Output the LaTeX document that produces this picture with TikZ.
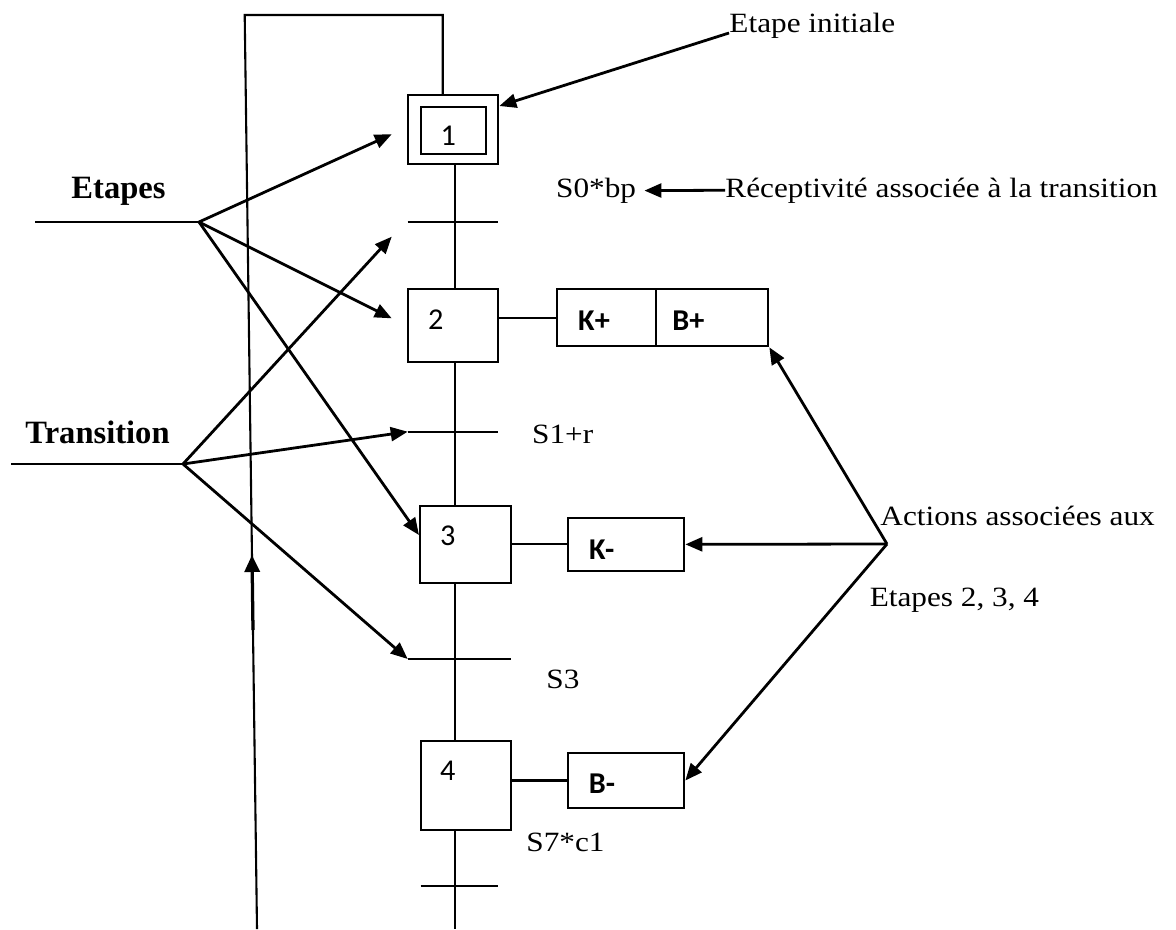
\documentclass[tikz,border=0pt]{standalone}
\usepackage{fontspec}
\setmainfont{Liberation Serif}[FakeStretch=1.12]
\newfontfamily\labelbold{Liberation Serif}
\newfontfamily\boxfont{Carlito}
\usetikzlibrary{arrows.meta,fit}

\begin{document}
\begin{tikzpicture}[x=0.43pt,y=-0.43pt,
  box/.style={draw,line width=0.9pt,inner sep=0pt},
  wire/.style={line width=0.9pt},
  pointer/.style={line width=1.2pt,-{Triangle[length=7.3pt,width=6pt]}},
  txt/.style={font=\fontsize{12}{14}\selectfont,inner sep=0pt},
  head/.style={font=\labelbold\fontsize{14}{16}\selectfont\bfseries,inner sep=0pt},
  num/.style={font=\boxfont\fontsize{13}{15}\selectfont,inner sep=0pt},
  act/.style={font=\boxfont\fontsize{13}{15}\selectfont\bfseries,inner sep=0pt}]
\useasboundingbox (0,0) rectangle (1176,929);

% ---- steps ----
\node[box,fit={(408.3,95) (498.3,164.3)}] (s1o) {};
\node[box,fit={(420.7,107.3) (486,154.3)}] (s1i) {};
\node[box,fit={(408.3,289) (498.3,362.3)}] (s2) {};
\node[box,fit={(420,505.7) (511,583.3)}] (s3) {};
\node[box,fit={(420.7,740.7) (510.7,830)}] (s4) {};
\node[num] (n1) at (448.3,136) {1};
\node[num] (n2) at (435.7,319.3) {2};
\node[num] (n3) at (447.7,536) {3};
\node[num] (n4) at (447.7,770.7) {4};

% ---- actions ----
\node[box,fit={(557.3,289) (656,346.3)}] (a2k) {};
\node[box,fit={(656,289) (768.3,346.3)}] (a2b) {};
\node[box,fit={(567.7,517.7) (684.3,571)}] (a3) {};
\node[box,fit={(567.7,752.7) (684.3,808.3)}] (a4) {};
\node[act] (k1) at (594,320.7) {K+};
\node[act] (b1) at (688.3,320.7) {B+};
\node[act] (k2) at (601.7,549.3) {K-};
\node[act] (b2) at (602,783.7) {B-};
\draw[wire] (s2.east |- a2k.west) -- (a2k.west);
\draw[wire] (s3.east |- a3.west) -- (a3.west);
\draw[wire] (s4.east |- a4.west) -- (a4.west);

% ---- main chain and transitions ----
\coordinate (cx) at (455,0);
\coordinate (bottom) at (455,929);
\draw[wire] (s1o.south -| cx) -- (s2.north -| cx);
\draw[wire] (s2.south -| cx) -- (s3.north -| cx);
\draw[wire] (s3.south -| cx) -- (s4.north -| cx);
\draw[wire] (s4.south -| cx) -- (bottom);
\coordinate (t1l) at (407.7,221.7); \coordinate (t1r) at (498.3,221.7);
\coordinate (t2l) at (407.7,431.7); \coordinate (t2r) at (498.3,431.7);
\coordinate (t3l) at (407.7,659);   \coordinate (t3r) at (511,659);
\coordinate (t4l) at (420.7,885.7); \coordinate (t4r) at (498.3,885.7);
\draw[wire] (t1l) -- (t1r);
\draw[wire] (t2l) -- (t2r);
\draw[wire] (t3l) -- (t3r);
\draw[wire] (t4l) -- (t4r);

% ---- return loop ----
\coordinate (lp0) at (257,929);
\coordinate (lp1) at (244.7,15);
\coordinate (lp2) at (442.7,15);
\draw[wire] (lp0) -- (lp1) -- (lp2) -- (s1o.north -| lp2);
\coordinate (ar0) at (253,630);
\coordinate (ar1) at (252,555);
\draw[line width=1.4pt,-{Triangle[length=7.3pt,width=6.5pt]}] (ar0) -- (ar1);

% ---- conditions ----
\node[txt,anchor=base west] (r0) at (555.7,197.3) {S0*bp};
\node[txt,anchor=base west] (r1) at (531.7,443.3) {S1+r};
\node[txt,anchor=base west] (r2) at (546,688.3) {S3};
\node[txt,anchor=base west] (r3) at (526,851.7) {S7*c1};

% ---- annotations ----
\node[txt,anchor=base west] (ei) at (729,33) {Etape initiale};
\coordinate (s1tip) at (s1o.east |- 0,106);
\draw[pointer] (ei.base west) -- (s1tip);

\node[txt,anchor=base west] (rec) at (725,197) {Réceptivité associée à la transition};
\draw[pointer] (rec.west) -- ([xshift=3.4pt]r0.east);

\node[head,anchor=base west] (etp) at (71,198.3) {Etapes};
\coordinate (el) at (35,222);
\coordinate (eh) at (199,222);
\coordinate (p1) at (391.7,134.3);
\coordinate (p2) at (391.7,318.3);
\coordinate (p3) at (s3.west |- 0,535);
\draw[wire] (el) -- (eh);
\draw[pointer] (eh) -- (p1);
\draw[pointer] (eh) -- (p2);
\draw[pointer] (eh) -- (p3);

\node[head,anchor=base west] (trn) at (25,443.3) {Transition};
\coordinate (tl) at (11,464);
\coordinate (th) at (183,464);
\coordinate (q1) at (391.7,236.7);
\draw[wire] (tl) -- (th);
\draw[pointer] (th) -- (q1);
\draw[pointer] (th) -- (t2l);
\draw[pointer] (th) -- (t3l);

\node[txt,anchor=base west] (acts) at (880,525) {Actions associées aux};
\node[txt,anchor=base west] (acts2) at (869.3,606.7) {Etapes 2, 3, 4};
\coordinate (ah) at (887,544);
\draw[pointer] (ah) -- (a2b.south east);
\draw[pointer] (ah) -- (a3.east);
\draw[pointer] (ah) -- (a4.east);
\end{tikzpicture}
\end{document}
